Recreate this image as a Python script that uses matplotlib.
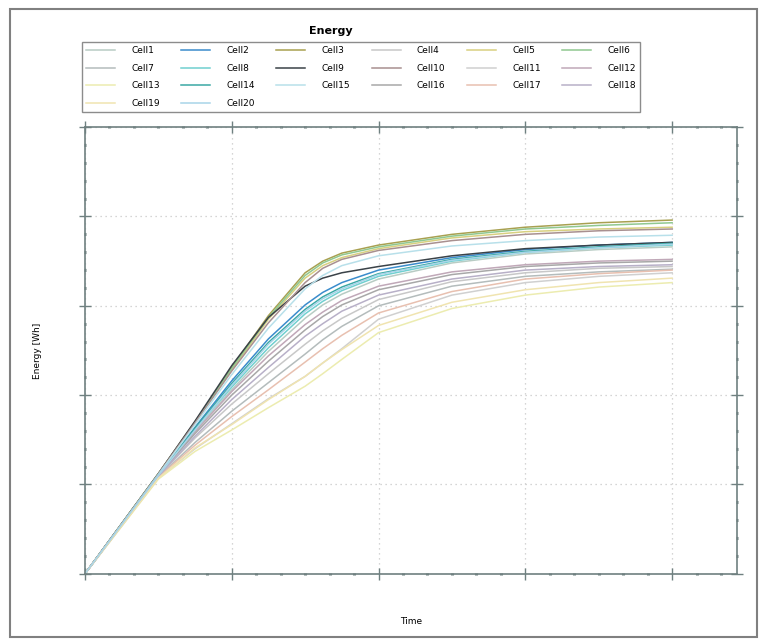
import matplotlib
matplotlib.use("Agg")
import matplotlib.pyplot as plt
from matplotlib.patches import Rectangle
from matplotlib.ticker import MultipleLocator, AutoMinorLocator

# sample times
t = [0, 0.5, 0.75, 1.0, 1.25, 1.5, 1.62, 1.75, 2.0, 2.5, 3.0, 3.5, 4.0]

# energy of each cell [Wh]
cell1 = [0, 1.10, 1.60, 2.06, 2.49, 2.86, 3.01, 3.13, 3.30, 3.48, 3.58, 3.63, 3.66]
cell2 = [0, 1.11, 1.64, 2.16, 2.63, 3.01, 3.15, 3.26, 3.40, 3.54, 3.63, 3.68, 3.71]
cell3 = [0, 1.12, 1.70, 2.31, 2.89, 3.37, 3.50, 3.59, 3.68, 3.80, 3.88, 3.93, 3.96]
cell4 = [0, 1.09, 1.52, 1.90, 2.24, 2.57, 2.72, 2.86, 3.07, 3.27, 3.37, 3.42, 3.44]
cell5 = [0, 1.12, 1.69, 2.28, 2.85, 3.31, 3.45, 3.54, 3.64, 3.76, 3.83, 3.86, 3.88]
cell6 = [0, 1.12, 1.70, 2.30, 2.87, 3.34, 3.48, 3.57, 3.66, 3.78, 3.86, 3.90, 3.93]
cell7 = [0, 1.08, 1.47, 1.82, 2.14, 2.46, 2.62, 2.77, 3.00, 3.22, 3.33, 3.38, 3.41]
cell8 = [0, 1.10, 1.62, 2.09, 2.53, 2.91, 3.05, 3.17, 3.33, 3.50, 3.60, 3.65, 3.68]
cell9 = [0, 1.12, 1.71, 2.33, 2.87, 3.22, 3.31, 3.37, 3.44, 3.56, 3.64, 3.68, 3.71]
cell10 = [0, 1.12, 1.69, 2.27, 2.81, 3.26, 3.42, 3.52, 3.62, 3.73, 3.80, 3.84, 3.86]
cell11 = [0, 1.07, 1.40, 1.68, 1.96, 2.21, 2.36, 2.52, 2.85, 3.12, 3.26, 3.33, 3.37]
cell12 = [0, 1.10, 1.59, 2.04, 2.44, 2.79, 2.93, 3.06, 3.22, 3.38, 3.46, 3.50, 3.52]
cell13 = [0, 1.06, 1.37, 1.61, 1.86, 2.10, 2.24, 2.40, 2.70, 2.97, 3.12, 3.21, 3.26]
cell14 = [0, 1.11, 1.63, 2.13, 2.59, 2.96, 3.10, 3.21, 3.36, 3.52, 3.61, 3.66, 3.70]
cell15 = [0, 1.11, 1.67, 2.23, 2.75, 3.19, 3.34, 3.45, 3.56, 3.67, 3.73, 3.77, 3.79]
cell16 = [0, 1.10, 1.57, 2.00, 2.38, 2.73, 2.88, 3.01, 3.18, 3.35, 3.44, 3.48, 3.50]
cell17 = [0, 1.08, 1.44, 1.76, 2.06, 2.37, 2.52, 2.67, 2.92, 3.16, 3.30, 3.36, 3.40]
cell18 = [0, 1.09, 1.54, 1.95, 2.31, 2.66, 2.80, 2.94, 3.12, 3.30, 3.40, 3.44, 3.46]
cell19 = [0, 1.07, 1.41, 1.67, 1.95, 2.21, 2.36, 2.51, 2.78, 3.04, 3.18, 3.26, 3.31]
cell20 = [0, 1.10, 1.61, 2.11, 2.57, 2.94, 3.08, 3.19, 3.35, 3.51, 3.60, 3.65, 3.69]

cells = [cell1, cell2, cell3, cell4, cell5, cell6, cell7, cell8, cell9, cell10,
         cell11, cell12, cell13, cell14, cell15, cell16, cell17, cell18, cell19, cell20]
names = ["Cell%d" % (i + 1) for i in range(20)]
colors = ["#b8ccc4", "#3a8ccc", "#a8a050", "#c8c8c8", "#d8d080", "#90c890",
          "#b4bcbc", "#70d0d0", "#3a4248", "#a89090", "#d0d0d0", "#c0a8b8",
          "#ececb0", "#3aa8a4", "#b8e0ea", "#a8a8a8", "#e8c0b0",
          "#b8b0c8", "#f0e4b0", "#a8d4e8"]

fig = plt.figure(figsize=(7.65, 6.39), dpi=100)
ax = fig.add_axes([0.111, 0.102, 0.852, 0.699])

lines = []
for y, c, n in zip(cells, colors, names):
    ln, = ax.plot(t, y, color=c, lw=1.1, label=n)
    lines.append(ln)

ax.set_xlim(0, 4.44)
ax.set_ylim(0, 5)
ax.xaxis.set_major_locator(MultipleLocator(1))
ax.yaxis.set_major_locator(MultipleLocator(1))
ax.xaxis.set_minor_locator(AutoMinorLocator(6))
ax.yaxis.set_minor_locator(AutoMinorLocator(5))
ax.grid(True, which="major", color="#c8c8c8", ls=(0, (1, 3)), lw=0.9)
ax.tick_params(which="both", direction="inout", top=True, right=True,
               labelbottom=False, labelleft=False, color="#6f8080")
ax.tick_params(which="major", length=8, width=1)
ax.tick_params(which="minor", length=2, width=2.2)
for s in ax.spines.values():
    s.set_color("#6f8080")
    s.set_linewidth(1.2)

ax.set_xlabel("Time", fontsize=6.5, labelpad=27)
ax.set_ylabel("Energy [Wh]", fontsize=6.5, labelpad=27)

# legend filled row by row: 6 columns, 4 rows
order = [0, 6, 12, 18, 1, 7, 13, 19, 2, 8, 14, 3, 9, 15, 4, 10, 16, 5, 11, 17]
fig.legend([lines[i] for i in order], [names[i] for i in order], ncol=6,
           loc="upper left", bbox_to_anchor=(0.107, 0.812, 0.73, 0.122),
           mode="expand", fontsize=6.5, frameon=True, fancybox=False,
           edgecolor="#707070", handlelength=3.2, handletextpad=1.8,
           borderaxespad=0, labelspacing=0.95, borderpad=0.45)
fig.text(0.432, 0.952, "Energy", fontsize=8, fontweight="bold", ha="center", va="center")

# outer frame of the window
fig.patches.append(Rectangle((10 / 765, 0.003), 747 / 765, 1 - 9 / 639 - 0.003,
                             transform=fig.transFigure, fill=False,
                             edgecolor="#808080", lw=1.5))

fig.savefig("out.png", dpi=100)
